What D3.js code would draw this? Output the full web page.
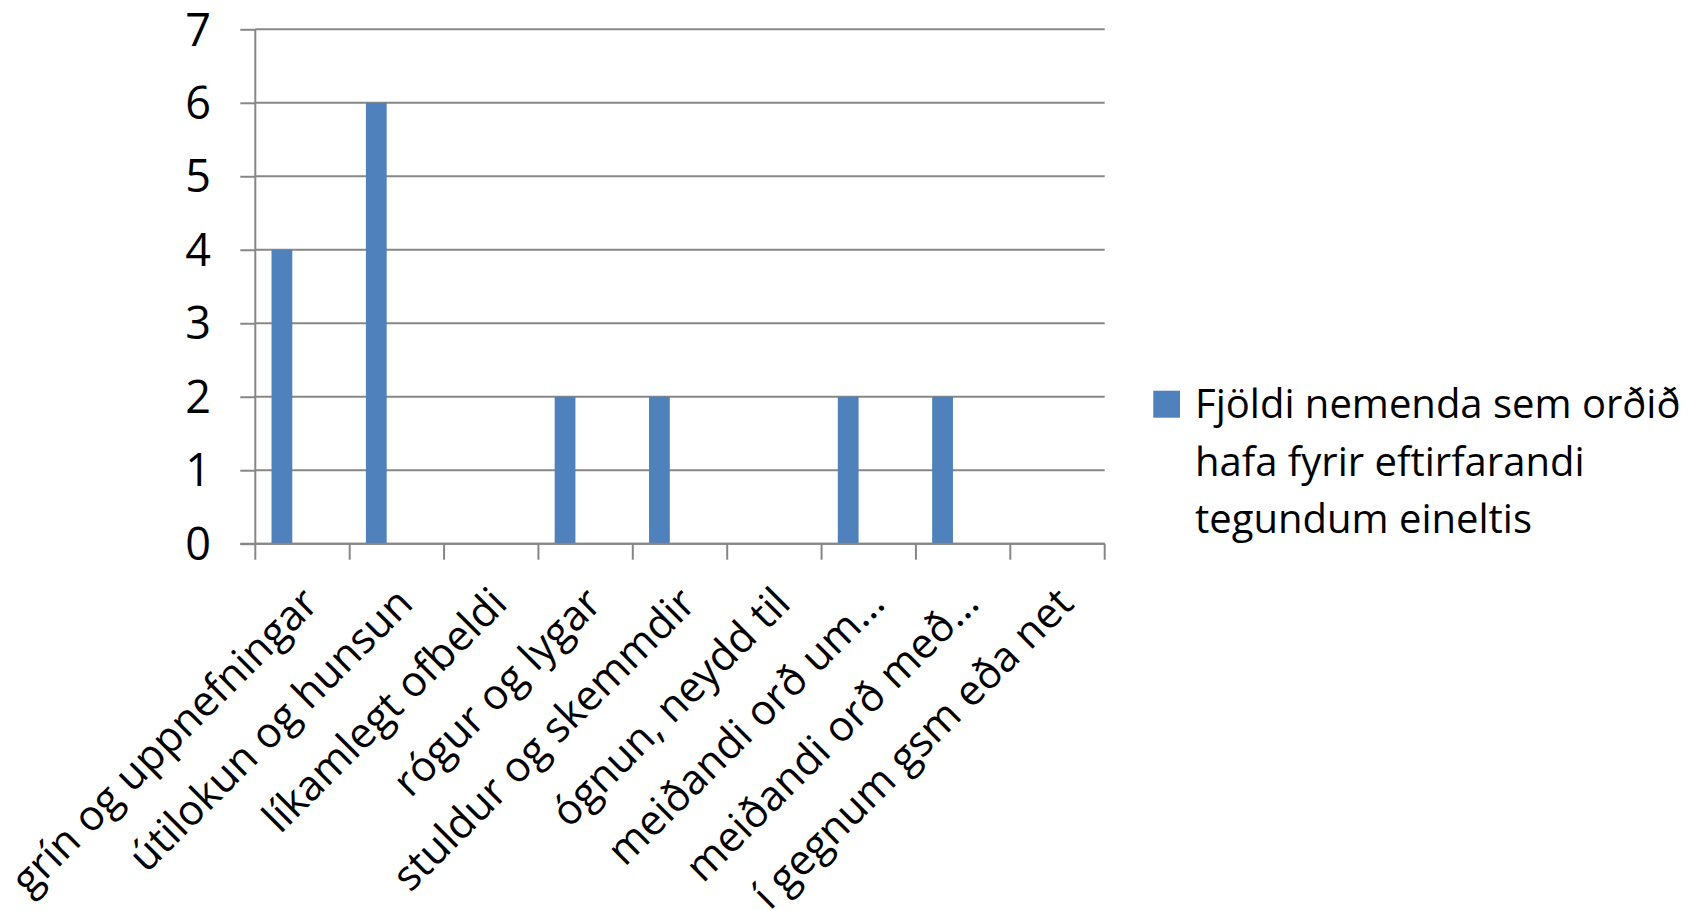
<!DOCTYPE html>
<html>
<head>
<meta charset="utf-8">
<script src="https://cdn.jsdelivr.net/npm/d3@7"></script>
<style>
    body { margin: 0; background: #fff; }
    text { font-family: "Open Sans", "Noto Sans", sans-serif; fill: #000; }
</style>
</head>
<body>
<div id="chart"></div>
<script>
const categories = [
    "grín og uppnefningar",
    "útilokun og hunsun",
    "líkamlegt ofbeldi",
    "rógur og lygar",
    "stuldur og skemmdir",
    "ógnun, neydd til",
    "meiðandi orð um…",
    "meiðandi orð með…",
    "í gegnum gsm eða net"
];
const values = [4, 6, 0, 2, 2, 0, 2, 2, 0];
const yTicks = [0, 1, 2, 3, 4, 5, 6, 7];
const seriesName = ["Fjöldi nemenda sem orðið", "hafa fyrir eftirfarandi", "tegundum eineltis"];

const width = 1704, height = 911;
const plot = { left: 255.3, right: 1104.7, top: 29.3, bottom: 543.7 };
const gray = "#878787";
const barColor = "#4f81bd";

const svg = d3.select("#chart").append("svg")
    .attr("width", width)
    .attr("height", height);

const x = d3.scaleBand().domain(categories).range([plot.left, plot.right]).padding(0);
const y = d3.scaleLinear().domain([0, 7]).range([plot.bottom, plot.top]);

// left tick marks
svg.append("g")
    .attr("transform", `translate(${plot.left},0)`)
    .call(d3.axisLeft(y).tickValues(yTicks).tickSize(15).tickFormat(""))
    .call(g => g.selectAll("line").attr("stroke", gray).attr("stroke-width", 2))
    .call(g => g.select(".domain").remove());

// horizontal gridlines
svg.append("g")
    .selectAll("line")
    .data(yTicks)
    .join("line")
    .attr("x1", plot.left)
    .attr("x2", plot.right)
    .attr("y1", d => y(d))
    .attr("y2", d => y(d))
    .attr("stroke", gray)
    .attr("stroke-width", 2);

// y axis line
svg.append("line")
    .attr("x1", plot.left).attr("x2", plot.left)
    .attr("y1", plot.top).attr("y2", plot.bottom)
    .attr("stroke", gray).attr("stroke-width", 2);

// y tick labels
svg.append("g")
    .selectAll("text")
    .data(yTicks)
    .join("text")
    .attr("x", 211)
    .attr("y", d => y(d))
    .attr("dy", "0.36em")
    .attr("text-anchor", "end")
    .style("font-size", "45px")
    .text(d => d);

// bars
svg.append("g")
    .selectAll("rect")
    .data(values)
    .join("rect")
    .attr("x", (d, i) => x(categories[i]) + x.bandwidth() * 0.172)
    .attr("width", x.bandwidth() * 0.22)
    .attr("y", d => y(d))
    .attr("height", d => y(0) - y(d))
    .attr("fill", barColor);

// x axis with ticks at band edges
const edges = categories.map(c => x(c)).concat([plot.right]);
svg.append("line")
    .attr("x1", plot.left - 15).attr("x2", plot.right)
    .attr("y1", plot.bottom).attr("y2", plot.bottom)
    .attr("stroke", gray).attr("stroke-width", 2);
svg.append("g")
    .selectAll("line")
    .data(edges)
    .join("line")
    .attr("x1", d => d).attr("x2", d => d)
    .attr("y1", plot.bottom).attr("y2", plot.bottom + 16)
    .attr("stroke", gray).attr("stroke-width", 2);

// rotated category labels
svg.append("g")
    .selectAll("text")
    .data(categories)
    .join("text")
    .attr("transform", d => `translate(${x(d) + x.bandwidth() / 2 + 18},${plot.bottom + 62}) rotate(-45)`)
    .attr("text-anchor", "end")
    .style("font-size", "42px")
    .text(d => d);

// legend
const legend = svg.append("g");
legend.append("rect")
    .attr("x", 1153.3).attr("y", 390.7)
    .attr("width", 26.7).attr("height", 27)
    .attr("fill", barColor);
legend.selectAll("text")
    .data(seriesName)
    .join("text")
    .attr("x", 1195)
    .attr("y", (d, i) => 418 + i * 57.6)
    .style("font-size", "40px")
    .text(d => d);
</script>
</body>
</html>
